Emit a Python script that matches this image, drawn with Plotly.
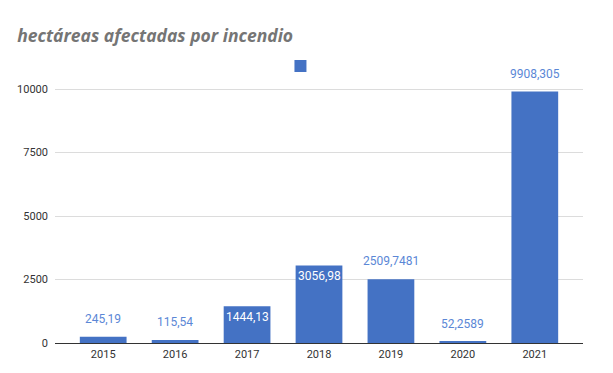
import plotly.graph_objects as go

years = ["2015", "2016", "2017", "2018", "2019", "2020", "2021"]
hectareas = [245.19, 115.54, 1444.13, 3056.98, 2509.7481, 52.2589, 9908.305]
label_inside = [False, False, True, True, False, False, False]
y_ticks = [0, 2500, 5000, 7500, 10000]
title_text = "hectáreas afectadas por incendio"

BAR = "#4472c4"
LBL = "#5b87d6"

fig = go.Figure()
fig.add_trace(go.Bar(
    x=years, y=hectareas, name="",
    marker=dict(color=BAR, line=dict(width=0)),
    showlegend=True, hoverinfo="skip",
))

for i, (v, ins) in enumerate(zip(hectareas, label_inside)):
    txt = str(v).replace(".", ",")
    if ins:
        fig.add_annotation(x=i, y=v, text=txt, showarrow=False, yanchor="top",
                           yshift=-2, font=dict(family="Roboto", size=12, color="white"))
    else:
        fig.add_annotation(x=i, y=v, text=txt, showarrow=False, yanchor="bottom",
                           yshift=9, font=dict(family="Roboto", size=12, color=LBL))

fig.update_layout(
    width=613, height=373,
    margin=dict(l=55, r=30, t=60, b=30),
    paper_bgcolor="white", plot_bgcolor="white",
    title=dict(text="<b><i>" + title_text + "</i></b>", x=0.028, xanchor="left",
               y=0.905, yanchor="middle",
               font=dict(family="Open Sans", size=17.5, color="#757575")),
    bargap=0.35,
    showlegend=True,
    legend=dict(x=0.427, y=0.979, xanchor="left", yanchor="middle", orientation="h",
                bgcolor="rgba(0,0,0,0)", font=dict(size=1), itemwidth=30),
    xaxis=dict(type="category", range=[-0.67, 6.67], showgrid=False, showline=False, ticks="",
               tickfont=dict(family="Roboto", size=11, color="#333333"),
               ticklabelstandoff=3, fixedrange=True),
    yaxis=dict(range=[0, 11150], tickvals=y_ticks, ticktext=[str(t) for t in y_ticks],
               showgrid=True, gridcolor="#dcdcdc", gridwidth=1,
               zeroline=True, zerolinecolor="#333333", zerolinewidth=1,
               tickfont=dict(family="Roboto", size=11, color="#333333"),
               ticks="", ticklabelstandoff=6, fixedrange=True),
)

fig.write_html("out.html", config={"displayModeBar": False},
               post_script="document.body.style.margin='0';")
